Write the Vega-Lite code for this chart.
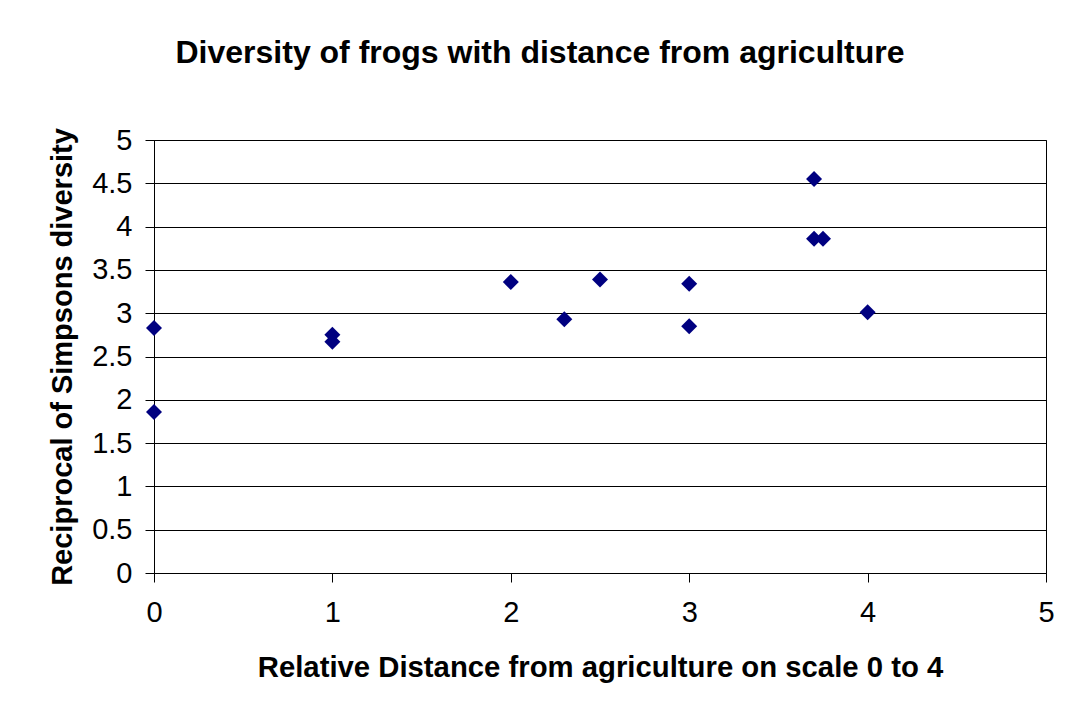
{
  "$schema": "https://vega.github.io/schema/vega-lite/v6.json",
  "autosize": "none",
  "width": 892,
  "height": 433,
  "padding": {"left": 154, "top": 140, "right": 22, "bottom": 142},
  "background": "white",
  "title": {
    "text": "Diversity of frogs with distance from agriculture",
    "font": "Liberation Sans",
    "fontSize": 32,
    "fontWeight": "bold",
    "color": "black",
    "anchor": "middle",
    "dx": -60,
    "offset": 56
  },
  "data": {
    "values": [
      {"distance": 0, "diversity": 2.83},
      {"distance": 0, "diversity": 1.86},
      {"distance": 1, "diversity": 2.75},
      {"distance": 1, "diversity": 2.67},
      {"distance": 2, "diversity": 3.36},
      {"distance": 2.3, "diversity": 2.93},
      {"distance": 2.5, "diversity": 3.39},
      {"distance": 3, "diversity": 3.34},
      {"distance": 3, "diversity": 2.85},
      {"distance": 3.7, "diversity": 4.55},
      {"distance": 3.7, "diversity": 3.86},
      {"distance": 3.75, "diversity": 3.86},
      {"distance": 4, "diversity": 3.01}
    ]
  },
  "mark": {"type": "point", "shape": "diamond", "filled": true, "size": 256, "color": "#000080", "opacity": 1},
  "encoding": {
    "x": {
      "field": "distance",
      "type": "quantitative",
      "scale": {"domain": [0, 5], "nice": false, "zero": true},
      "axis": {
        "title": "Relative Distance from agriculture on scale 0 to 4",
        "values": [0, 1, 2, 3, 4, 5],
        "format": "~g",
        "grid": false,
        "domainColor": "black",
        "tickColor": "black",
        "tickSize": 9,
        "labelFont": "Liberation Sans",
        "labelFontSize": 29,
        "labelColor": "black",
        "labelPadding": 16,
        "labelFlush": false,
        "titleFont": "Liberation Sans",
        "titleFontSize": 29.3,
        "titleFontWeight": "bold",
        "titleColor": "black",
        "titlePadding": 26
      }
    },
    "y": {
      "field": "diversity",
      "type": "quantitative",
      "scale": {"domain": [0, 5], "nice": false},
      "axis": {
        "title": "Reciprocal of Simpsons diversity",
        "values": [0, 0.5, 1, 1.5, 2, 2.5, 3, 3.5, 4, 4.5, 5],
        "format": "~g",
        "grid": true,
        "gridColor": "black",
        "gridOpacity": 1,
        "domainColor": "black",
        "tickColor": "black",
        "tickSize": 9,
        "labelFont": "Liberation Sans",
        "labelFontSize": 29,
        "labelColor": "black",
        "labelPadding": 13,
        "labelFlush": false,
        "titleFont": "Liberation Sans",
        "titleFontSize": 29,
        "titleFontWeight": "bold",
        "titleColor": "black",
        "titlePadding": 14
      }
    }
  },
  "config": {
    "view": {"stroke": "black", "strokeWidth": 1}
  }
}
